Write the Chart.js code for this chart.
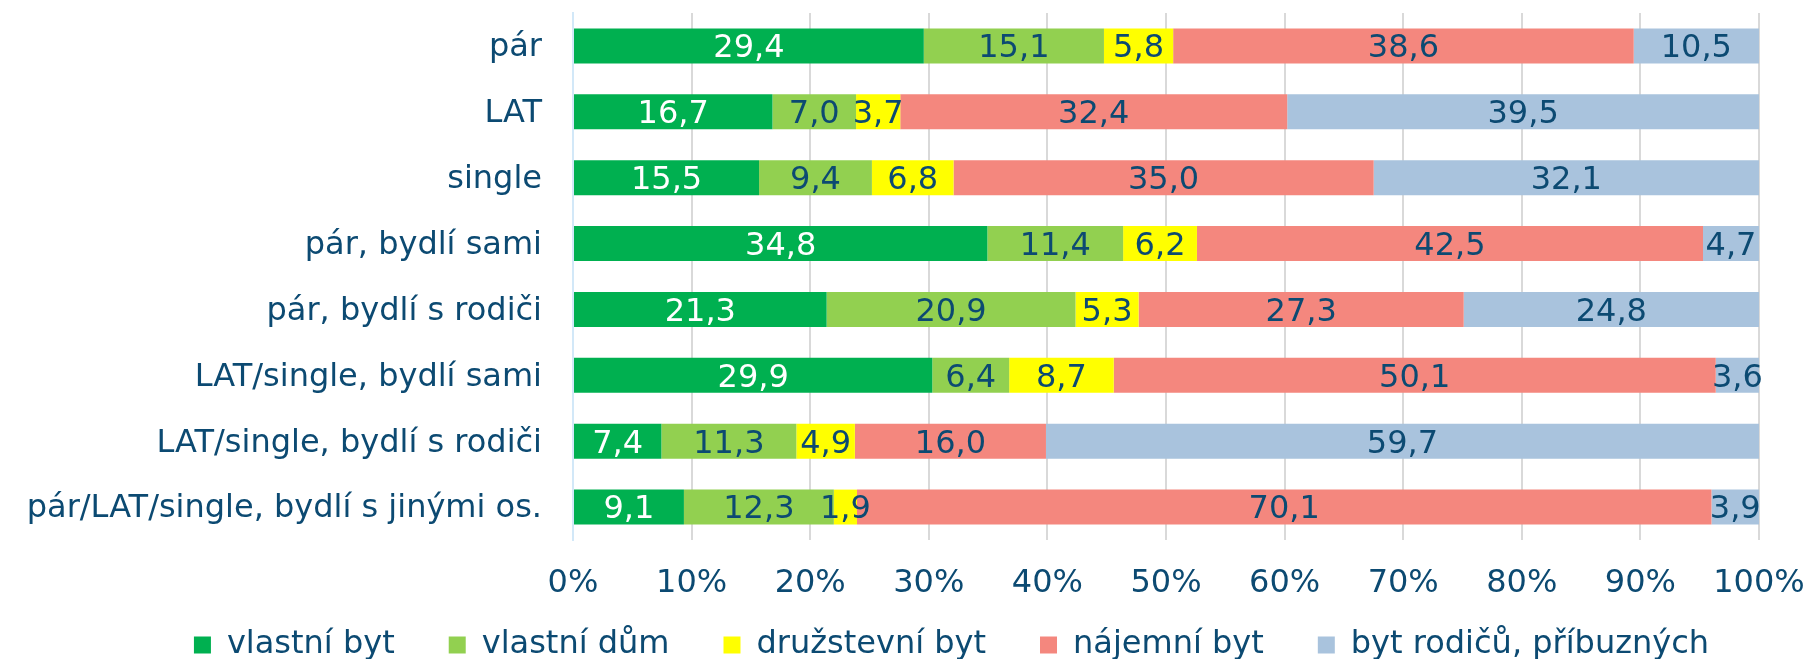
<!DOCTYPE html>
<html>
<head>
<meta charset="utf-8">
<script src="https://cdn.jsdelivr.net/npm/chart.js@4/dist/chart.umd.min.js"></script>
<style>
  html, body { margin: 0; padding: 0; background: #ffffff; }
  #wrap { width: 1809px; height: 659px; }
</style>
</head>
<body>
<div id="wrap"><canvas id="chart"></canvas></div>
<script>
// kategorie (osa Y)
const categories = [
    'pár',
    'LAT',
    'single',
    'pár, bydlí sami',
    'pár, bydlí s rodiči',
    'LAT/single, bydlí sami',
    'LAT/single, bydlí s rodiči',
    'pár/LAT/single, bydlí s jinými os.'
];

// hodnoty (%)
const vlastniByt    = [29.4, 16.7, 15.5, 34.8, 21.3, 29.9, 7.4, 9.1];
const vlastniDum    = [15.1, 7.0, 9.4, 11.4, 20.9, 6.4, 11.3, 12.3];
const druzstevniByt = [5.8, 3.7, 6.8, 6.2, 5.3, 8.7, 4.9, 1.9];
const najemniByt    = [38.6, 32.4, 35.0, 42.5, 27.3, 50.1, 16.0, 70.1];
const bytRodicu     = [10.5, 39.5, 32.1, 4.7, 24.8, 3.6, 59.7, 3.9];

const seriesNames = ['vlastní byt', 'vlastní dům', 'družstevní byt', 'nájemní byt', 'byt rodičů, příbuzných'];
const seriesValues = [vlastniByt, vlastniDum, druzstevniByt, najemniByt, bytRodicu];
const seriesColors = ['#00B050', '#92D050', '#FFFF00', '#F4877E', '#A9C3DD'];

const xTicks = [0, 10, 20, 30, 40, 50, 60, 70, 80, 90, 100];

const textColor = '#0C4A72';
const fontFamily = '"DejaVu Sans", Verdana, sans-serif';

// 100% skládaný graf - přepočet na podíl z řádku
const rowTotals = categories.map((c, i) => seriesValues.reduce((s, arr) => s + arr[i], 0));

const datasets = seriesValues.map((arr, k) => ({
    label: seriesNames[k],
    data: arr.map((v, i) => v / rowTotals[i] * 100),
    raw: arr,
    backgroundColor: seriesColors[k],
    borderWidth: 0,
    categoryPercentage: 1.0,
    barPercentage: 0.53
}));

// popisky hodnot uvnitř sloupců
const valueLabels = {
    id: 'valueLabels',
    afterDatasetsDraw(chart) {
        const ctx = chart.ctx;
        ctx.save();
        ctx.font = '32px ' + fontFamily;
        ctx.textAlign = 'center';
        ctx.textBaseline = 'middle';
        chart.data.datasets.forEach((ds, k) => {
            const meta = chart.getDatasetMeta(k);
            meta.data.forEach((bar, i) => {
                const txt = ds.raw[i].toFixed(1).replace('.', ',');
                ctx.fillStyle = k === 0 ? '#ffffff' : textColor;
                ctx.fillText(txt, (bar.x + bar.base) / 2, bar.y + 3);
            });
        });
        ctx.restore();
    }
};

// posunutí legendy
const legendShift = {
    id: 'legendShift',
    afterLayout(chart) {
        const lg = chart.legend;
        if (!lg) return;
        lg.left += 47;
        lg.right += 47;
        lg.top -= 29;
        lg.bottom = chart.height;
    }
};

new Chart(document.getElementById('chart').getContext('2d'), {
    type: 'bar',
    data: {
        labels: categories,
        datasets: datasets
    },
    options: {
        indexAxis: 'y',
        responsive: true,
        maintainAspectRatio: false,
        animation: false,
        layout: {
            padding: { top: 13, left: 0, right: 0, bottom: 0 }
        },
        plugins: {
            legend: {
                position: 'bottom',
                maxHeight: 55,
                labels: {
                    boxWidth: 17,
                    boxHeight: 17,
                    padding: 54,
                    color: textColor,
                    font: { family: fontFamily, size: 32 }
                }
            },
            tooltip: { enabled: false }
        },
        scales: {
            x: {
                stacked: true,
                min: 0,
                max: 100,
                afterBuildTicks: function(scale) {
                    scale.ticks = xTicks.map(v => ({ value: v }));
                },
                afterFit: function(scale) {
                    scale.height = 64;
                    scale.paddingLeft = 0;
                    scale.paddingRight = 50;
                },
                ticks: {
                    padding: 24,
                    color: textColor,
                    font: { family: fontFamily, size: 32 },
                    callback: function(value) { return value + '%'; }
                },
                grid: {
                    drawTicks: false,
                    lineWidth: 2,
                    color: function(c) {
                        return c.index === 0 ? 'rgba(0,0,0,0)' : '#D9D9D9';
                    }
                },
                border: { display: false }
            },
            y: {
                stacked: true,
                afterFit: function(scale) {
                    scale.width = 573;
                    scale.paddingTop = 0;
                    scale.paddingBottom = 0;
                },
                ticks: {
                    padding: 31,
                    labelOffset: 2,
                    color: textColor,
                    font: { family: fontFamily, size: 32 }
                },
                grid: { display: false, drawTicks: false },
                border: { display: true, color: '#D2E8F8', width: 2 }
            }
        }
    },
    plugins: [valueLabels, legendShift]
});
</script>
</body>
</html>
